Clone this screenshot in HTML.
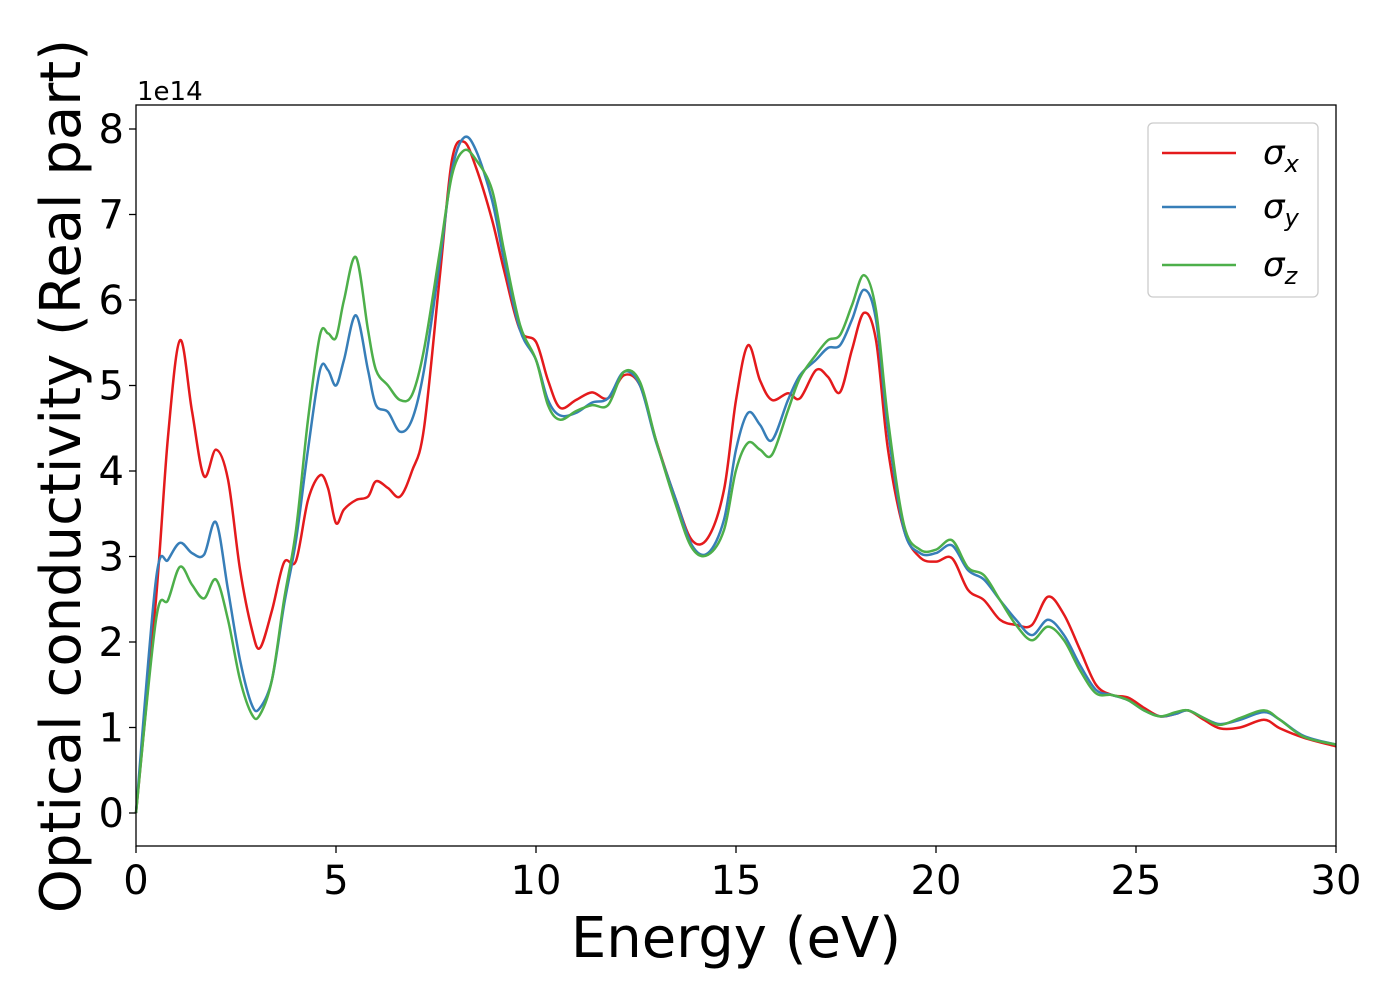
<!DOCTYPE html>
<html><head><meta charset="utf-8">
<style>
html,body{margin:0;padding:0;background:#fff;}
svg{display:block;font-family:"DejaVu Sans","Liberation Sans",sans-serif;}
</style></head>
<body>
<svg id="chart" width="1400" height="1000">
<rect x="0" y="0" width="1400" height="1000" fill="#fff"/>
<g id="plot"></g>
<rect x="136" y="105" width="1200" height="741" fill="none" stroke="#000" stroke-width="1.3"/>
<g id="ticks"></g>
<text x="137" y="100" font-size="26">1e14</text>
<text x="736" y="957" font-size="56" text-anchor="middle">Energy (eV)</text>
<text transform="translate(80,476) rotate(-90)" font-size="56" text-anchor="middle">Optical conductivity (Real part)</text>
<g>
<rect x="1148" y="123" width="170" height="174" rx="5" fill="#fff" fill-opacity="0.8" stroke="#ccc" stroke-width="1.3"/>
<g><line x1="1162" y1="153" x2="1236" y2="153" stroke="#e41a1c" stroke-width="2.5"/><text x="1263" y="164" font-size="34" font-style="italic">σ<tspan font-size="24" dy="8">x</tspan></text></g>
<g><line x1="1162" y1="207" x2="1236" y2="207" stroke="#377eb8" stroke-width="2.5"/><text x="1263" y="218" font-size="34" font-style="italic">σ<tspan font-size="24" dy="8">y</tspan></text></g>
<g><line x1="1162" y1="265" x2="1236" y2="265" stroke="#4daf4a" stroke-width="2.5"/><text x="1263" y="276" font-size="34" font-style="italic">σ<tspan font-size="24" dy="8">z</tspan></text></g>
</g>
</svg>
<script>
const energies=[0,0.5,0.8,1.1,1.4,1.7,2.0,2.3,2.6,2.9,3.1,3.4,3.7,4.0,4.3,4.6,4.8,5.0,5.2,5.5,5.8,6.0,6.3,6.6,6.9,7.2,7.6,7.9,8.2,8.5,8.9,9.2,9.6,10.0,10.3,10.6,11,11.4,11.8,12.2,12.6,13.0,13.5,13.9,14.3,14.7,15.0,15.3,15.6,15.9,16.3,16.6,17.0,17.3,17.6,17.9,18.2,18.5,18.8,19.2,19.6,20.0,20.4,20.8,21.2,21.6,22.0,22.4,22.8,23.2,23.6,24.0,24.4,24.8,25.2,25.6,26.0,26.3,26.7,27.1,27.6,28.2,28.6,29.2,30];
const sigmaX=[0,2.5,4.4,5.53,4.7,3.94,4.25,3.9,2.85,2.14,1.93,2.37,2.93,2.95,3.66,3.95,3.8,3.39,3.55,3.66,3.7,3.88,3.8,3.7,4.0,4.5,6.3,7.64,7.85,7.55,6.94,6.35,5.65,5.51,5.06,4.74,4.83,4.92,4.85,5.12,5.0,4.36,3.66,3.19,3.22,3.78,4.83,5.47,5.06,4.83,4.91,4.85,5.18,5.1,4.92,5.42,5.85,5.53,4.25,3.31,2.99,2.94,2.98,2.61,2.49,2.26,2.2,2.2,2.53,2.32,1.91,1.5,1.38,1.35,1.23,1.13,1.16,1.2,1.09,0.99,1.0,1.09,0.99,0.88,0.78];
const sigmaY=[0,2.73,2.96,3.16,3.04,3.02,3.4,2.61,1.79,1.26,1.23,1.56,2.43,3.19,4.25,5.18,5.18,5.0,5.3,5.82,5.18,4.77,4.69,4.46,4.6,5.18,6.47,7.52,7.9,7.75,7.17,6.47,5.65,5.3,4.83,4.65,4.68,4.8,4.85,5.16,5.0,4.34,3.66,3.13,3.04,3.43,4.25,4.68,4.54,4.36,4.83,5.12,5.3,5.44,5.47,5.77,6.12,5.77,4.48,3.31,3.04,3.04,3.13,2.84,2.73,2.49,2.26,2.08,2.26,2.08,1.73,1.44,1.38,1.32,1.2,1.13,1.16,1.2,1.11,1.04,1.09,1.18,1.09,0.9,0.8];
const sigmaZ=[0,2.26,2.49,2.88,2.67,2.51,2.73,2.26,1.56,1.15,1.15,1.56,2.49,3.31,4.6,5.59,5.61,5.56,6.0,6.5,5.65,5.18,5.0,4.83,4.89,5.42,6.58,7.46,7.75,7.64,7.29,6.58,5.71,5.3,4.77,4.6,4.7,4.77,4.77,5.16,5.04,4.36,3.6,3.1,3.02,3.31,4.01,4.33,4.25,4.19,4.71,5.09,5.36,5.53,5.59,5.94,6.29,5.88,4.6,3.37,3.08,3.08,3.19,2.87,2.78,2.49,2.2,2.02,2.18,2.02,1.67,1.4,1.38,1.32,1.2,1.13,1.18,1.2,1.11,1.03,1.11,1.2,1.09,0.89,0.8];
const xTicks=[0,5,10,15,20,25,30];
const yTicks=[0,1,2,3,4,5,6,7,8];

const X0=136,X1=1336,YP0=813,YSCALE=85.5;
const xs=v=>X0+(v-0)/30*(X1-X0);
const ys=v=>YP0-v*YSCALE;
const NS='http://www.w3.org/2000/svg';
function pathFor(vals){
  const p=energies.map((e,i)=>[xs(e),ys(vals[i])]);
  let d='M'+p[0][0]+','+p[0][1];
  for(let i=0;i<p.length-1;i++){
    const a=p[Math.max(0,i-1)],b=p[i],c=p[i+1],e=p[Math.min(p.length-1,i+2)];
    const c1=[b[0]+(c[0]-a[0])/6,b[1]+(c[1]-a[1])/6];
    const c2=[c[0]-(e[0]-b[0])/6,c[1]-(e[1]-b[1])/6];
    d+=' C'+c1[0]+','+c1[1]+' '+c2[0]+','+c2[1]+' '+c[0]+','+c[1];
  }
  return d;
}
const plot=document.getElementById('plot');
[[sigmaX,'#e41a1c','series-sigma-x'],[sigmaY,'#377eb8','series-sigma-y'],[sigmaZ,'#4daf4a','series-sigma-z']].forEach(s=>{
  const el=document.createElementNS(NS,'path');
  el.setAttribute('d',pathFor(s[0]));
  el.setAttribute('fill','none');
  el.setAttribute('stroke',s[1]);
  el.setAttribute('stroke-width','2.5');
  
  
  plot.appendChild(el);
});
const ticks=document.getElementById('ticks');
xTicks.forEach(t=>{
  const l=document.createElementNS(NS,'line');
  l.setAttribute('x1',xs(t));l.setAttribute('x2',xs(t));
  l.setAttribute('y1',846);l.setAttribute('y2',853);
  l.setAttribute('stroke','#000');l.setAttribute('stroke-width','1.3');
  
  
  ticks.appendChild(l);
  const tx=document.createElementNS(NS,'text');
  tx.setAttribute('x',xs(t));tx.setAttribute('y',894);
  tx.setAttribute('font-size','40');tx.setAttribute('text-anchor','middle');
  tx.textContent=t;
  
  
  ticks.appendChild(tx);
});
yTicks.forEach(t=>{
  const l=document.createElementNS(NS,'line');
  l.setAttribute('x1',129);l.setAttribute('x2',136);
  l.setAttribute('y1',ys(t));l.setAttribute('y2',ys(t));
  l.setAttribute('stroke','#000');l.setAttribute('stroke-width','1.3');
  
  
  ticks.appendChild(l);
  const tx=document.createElementNS(NS,'text');
  tx.setAttribute('x',124);tx.setAttribute('y',ys(t)+14);
  tx.setAttribute('font-size','40');tx.setAttribute('text-anchor','end');
  tx.textContent=t;
  
  
  ticks.appendChild(tx);
});
</script>
</body></html>
